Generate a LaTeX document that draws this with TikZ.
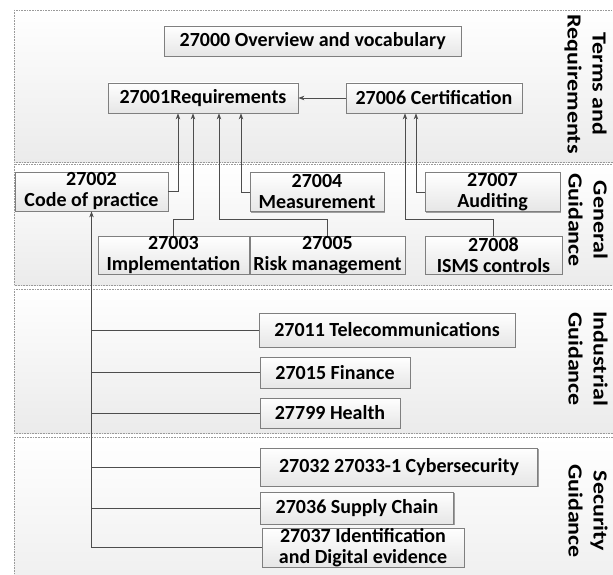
\documentclass[tikz,border=0pt]{standalone}
\usepackage{fontspec}
\setmainfont{Carlito}
\usetikzlibrary{arrows.meta,calc,shadows}
\definecolor{bandline}{HTML}{9A9A9A}
\definecolor{bandbot}{HTML}{EBEBEB}
\definecolor{boxline}{HTML}{7F7F7F}
\definecolor{boxbot}{HTML}{E6E6E6}
\definecolor{conn}{HTML}{4D4D4D}
\begin{document}
\begin{tikzpicture}[x=1pt,y=-1pt,
  band/.style={draw=bandline, densely dotted, line width=0.6pt, top color=white, bottom color=bandbot},
  box/.style={draw=boxline, line width=0.8pt, top color=white, bottom color=boxbot,
    drop shadow={shadow xshift=1.2pt, shadow yshift=-1.2pt, fill=gray!75, opacity=1},
    inner xsep=0pt, inner ysep=0pt, align=center, text=black,
    font=\fontsize{20}{21}\selectfont\bfseries},
  lbl/.style={rotate=-90, inner sep=0pt, text=black, font=\fontsize{20}{25}\selectfont\bfseries},
  arr/.style={draw=conn, line width=0.8pt, -{Stealth[length=6pt,width=4.5pt]}},
  ln/.style={draw=conn, line width=0.8pt}
]
\useasboundingbox (0,0) rectangle (613,575);
% bands
\path[band] (14,10) rectangle (660,162);
\path[band] (14,164) rectangle (660,285);
\path[band] (14,289) rectangle (660,433);
\path[band] (14,437) rectangle (660,620);
% side labels
\node[lbl] (lab1) at (585,84) {\scalebox{1.2}[1]{\begin{tabular}{@{}c@{}}Terms and\\Requirements\end{tabular}}};
\node[lbl] (lab2) at (586,220) {\scalebox{1.2}[1]{\begin{tabular}{@{}c@{}}General\\Guidance\end{tabular}}};
\node[lbl] (lab3) at (586,359) {\scalebox{1.2}[1]{\begin{tabular}{@{}c@{}}Industrial\\Guidance\end{tabular}}};
\node[lbl] (lab4) at (586,511) {\scalebox{1.2}[1]{\begin{tabular}{@{}c@{}}Security\\Guidance\end{tabular}}};
% boxes
\node[box, minimum width=297pt, minimum height=30pt] (n27000) at (312.7,41) {27000 Overview and vocabulary};
\node[box, minimum width=190pt, minimum height=30pt] (n27001) at (203,98) {27001Requirements};
\node[box, minimum width=176pt, minimum height=30pt] (n27006) at (434,98) {27006 Certification};
\node[box, minimum width=153pt, minimum height=39pt] (n27002) at (91.5,191.5) {27002\\Code of practice};
\node[box, minimum width=134pt, minimum height=39pt] (n27004) at (317,192) {27004\\Measurement};
\node[box, minimum width=135pt, minimum height=39pt] (n27007) at (492.5,192) {27007\\Auditing};
\node[box, minimum width=151pt, minimum height=38pt] (n27003) at (173.5,255) {27003\\Implementation};
\node[box, minimum width=155pt, minimum height=38pt] (n27005) at (327.5,255) {27005\\Risk management};
\node[box, minimum width=137pt, minimum height=38pt] (n27008) at (493.5,255) {27008\\ISMS controls};
\node[box, minimum width=256pt, minimum height=34pt] (n27011) at (387,330) {27011 Telecommunications};
\node[box, minimum width=150pt, minimum height=31pt] (n27015) at (335,372.5) {27015 Finance};
\node[box, minimum width=140pt, minimum height=30pt] (n27799) at (330,413) {27799 Health};
\node[box, minimum width=277pt, minimum height=38pt] (n27032) at (399,467) {27032 27033-1 Cybersecurity};
\node[box, minimum width=193pt, minimum height=32pt] (n27036) at (357,508) {27036 Supply Chain};
\node[box, minimum width=202pt, minimum height=39pt] (n27037) at (363,547.5) {27037 Identification\\and Digital evidence};
% helper coordinates
\coordinate (lvl) at (0,219);
\coordinate (a1) at ($(n27001.south)+(-25,0)$);
\coordinate (a2) at ($(n27001.south)+(-10,0)$);
\coordinate (a3) at ($(n27001.south)+(16,0)$);
\coordinate (a4) at ($(n27001.south)+(38,0)$);
\coordinate (b1) at ($(n27006.south)+(-29,0)$);
\coordinate (b2) at ($(n27006.south)+(-18,0)$);
% connectors
\draw[arr] (n27006.west) -- (n27001.east);
\draw[arr] (n27002.east) -| (a1);
\draw[arr] (n27003.north) |- (a2 |- lvl) -- (a2);
\draw[arr] (n27005.north) |- (a3 |- lvl) -- (a3);
\draw[arr] (n27004.west) -| (a4);
\draw[arr] (n27007.west) -| (b2);
\draw[arr] (n27008.north) |- (b1 |- lvl) -- (b1);
\draw[arr] (n27037.west) -| (n27002.south);
\draw[ln] (n27011.west) -- (n27011.west -| n27002.south);
\draw[ln] (n27015.west) -- (n27015.west -| n27002.south);
\draw[ln] (n27799.west) -- (n27799.west -| n27002.south);
\draw[ln] (n27032.west) -- (n27032.west -| n27002.south);
\draw[ln] (n27036.west) -- (n27036.west -| n27002.south);
\end{tikzpicture}
\end{document}
